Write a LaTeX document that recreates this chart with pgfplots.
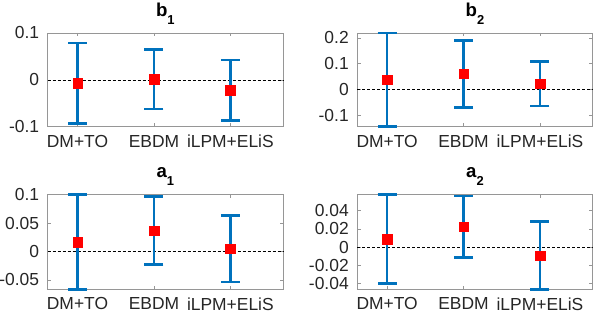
\documentclass[border=0pt]{standalone}
\usepackage{pgfplots}
\pgfplotsset{compat=1.18}
\usepackage{pgfplotstable}
\usepackage{fontspec}
\setmainfont{Liberation Sans}
\definecolor{mblue}{RGB}{0,114,189}
\definecolor{tickgray}{RGB}{38,38,38}
\definecolor{boxgray}{RGB}{150,150,150}

\pgfplotstableread{
x y e
1 -0.007 0.0855
2 0.0015 0.064
3 -0.0224 0.0648
}\tbbone
\pgfplotstableread{
x y e
1 0.038 0.181
2 0.061 0.1285
3 0.023 0.086
}\tbbtwo
\pgfplotstableread{
x y e
1 0.0167 0.0834
2 0.0367 0.0603
3 0.0048 0.0588
}\tbaone
\pgfplotstableread{
x y e
1 0.009 0.0486
2 0.0225 0.0335
3 -0.0092 0.037
}\tbatwo

\newcommand{\ttl}[2]{#1\raisebox{-8bp}{\fontsize{13}{13}\selectfont #2}}

\pgfplotsset{
  myax/.style={
    scale only axis, width=235.4bp,
    xmin=0.61, xmax=3.69,
    xtick={1,2,3}, xticklabels={DM+TO,EBDM,iLPM+ELiS},
    scaled y ticks=false,
    tick align=inside, xtick pos=both, ytick pos=both,
    xticklabel pos=lower, yticklabel pos=left,
    major tick length=3.5bp,
    axis line style={boxgray, line width=0.6bp},
    every tick/.style={boxgray, line width=0.6bp},
    tick label style={font=\fontsize{17.5}{20}\selectfont, text=tickgray, inner sep=0pt},
    xticklabel style={anchor=north, yshift=-8.3bp},
    yticklabel style={anchor=east, xshift=-8.4bp},
    title style={font=\bfseries\fontsize{18.7}{22}\selectfont, anchor=base, at={(0.5,1)}, yshift=11bp, inner sep=0pt},
    clip=false,
  },
  zl/.style={black, line width=0.6bp, dash pattern=on 3bp off 2bp},
  eb/.style={mblue, line width=2.5bp, only marks, mark=none,
    error bars/.cd, y dir=both, y explicit,
    error bar style={mblue, line width=2.5bp, solid},
    error mark options={rotate=90, mblue, line width=2.7bp, mark size=9.5bp}},
  mk/.style={only marks, mark=square*, red, line width=0.4bp, mark size=4.8bp, mark options={fill=red, draw=red}},
}

\begin{document}
\begin{tikzpicture}
\path[use as bounding box] (0,0) rectangle (594bp,314bp);

\begin{axis}[myax, at={(47.7bp,187.3bp)}, anchor=south west, height=93.7bp,
  ymin=-0.1, ymax=0.1, ytick={-0.1,0,0.1}, yticklabels={-0.1,0,0.1},
  title={\ttl{b}{1}}]
\addplot[zl] coordinates {(0.61,0) (3.69,0)};
\addplot[eb] table[x=x,y=y,y error=e]{\tbbone};
\addplot[mk] table[x=x,y=y]{\tbbone};
\end{axis}

\begin{axis}[myax, at={(357.3bp,187.3bp)}, anchor=south west, height=93.7bp,
  ymin=-0.143, ymax=0.219, ytick={-0.1,0,0.1,0.2}, yticklabels={-0.1,0,0.1,0.2},
  title={\ttl{b}{2}}]
\addplot[zl] coordinates {(0.61,0) (3.69,0)};
\addplot[eb] table[x=x,y=y,y error=e]{\tbbtwo};
\addplot[mk] table[x=x,y=y]{\tbbtwo};
\end{axis}

\begin{axis}[myax, at={(47.7bp,24.7bp)}, anchor=south west, height=94.6bp,
  ymin=-0.0667, ymax=0.1, ytick={-0.05,0,0.05,0.1}, yticklabels={-0.05,0,0.05,0.1},
  title={\ttl{a}{1}}]
\addplot[zl] coordinates {(0.61,0) (3.69,0)};
\addplot[eb] table[x=x,y=y,y error=e]{\tbaone};
\addplot[mk] table[x=x,y=y]{\tbaone};
\end{axis}

\begin{axis}[myax, at={(357.3bp,24.7bp)}, anchor=south west, height=94.6bp,
  ymin=-0.0462, ymax=0.0575, ytick={-0.04,-0.02,0,0.02,0.04}, yticklabels={-0.04,-0.02,0,0.02,0.04},
  title={\ttl{a}{2}}]
\addplot[zl] coordinates {(0.61,0) (3.69,0)};
\addplot[eb] table[x=x,y=y,y error=e]{\tbatwo};
\addplot[mk] table[x=x,y=y]{\tbatwo};
\end{axis}
\end{tikzpicture}
\end{document}
